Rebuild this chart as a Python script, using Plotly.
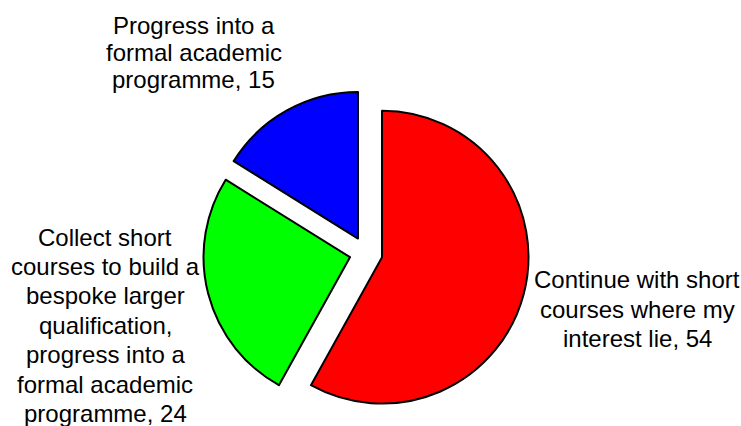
import plotly.graph_objects as go

# Survey answers and counts
labels = [
    "Continue with short<br>courses where my<br>interest lie",
    "Collect short<br>courses to build a<br>bespoke larger<br>qualification,<br>progress into a<br>formal academic<br>programme",
    "Progress into a<br>formal academic<br>programme",
]
values = [54, 24, 15]
colors = ["#FF0000", "#00FF00", "#0000FF"]

# Label placement in pixels: (centre x, first baseline y, line step)
label_anchor = [(637, 288, 29.5), (105, 245.5, 29.4), (193.5, 33.5, 27.2)]

W, H = 741, 426
FONT = "Liberation Sans, Arial, sans-serif"
FONT_SIZE = 24
PULL = 0.113

# Pie box, in pixels: centre and side length
cx, cy, side = 366, 253, 326

fig = go.Figure(
    go.Pie(
        labels=[l.replace("<br>", " ") for l in labels],
        values=values,
        sort=False,
        direction="clockwise",
        rotation=0,
        pull=[PULL] * len(values),
        marker=dict(colors=colors, line=dict(color="#000000", width=2)),
        textinfo="none",
        hoverinfo="label+value",
        domain=dict(
            x=[(cx - 200) / W, (cx + 200) / W],
            y=[1 - (cy + side / 2) / H, 1 - (cy - side / 2) / H],
        ),
        showlegend=False,
    )
)

annotations = []
for text, val, (ax, ay, step) in zip(labels, values, label_anchor):
    lines = text.split("<br>")
    lines[-1] = f"{lines[-1]}, {val}"
    for i, line in enumerate(lines):
        base = ay + i * step
        mid = base - 0.3465 * FONT_SIZE
        annotations.append(
            dict(
                text=line,
                x=ax / W,
                y=1 - mid / H,
                xref="paper",
                yref="paper",
                xanchor="center",
                yanchor="middle",
                showarrow=False,
                font=dict(family=FONT, size=FONT_SIZE, color="#000000"),
            )
        )

fig.update_layout(
    width=W,
    height=H,
    margin=dict(l=0, r=0, t=0, b=0),
    paper_bgcolor="#FFFFFF",
    plot_bgcolor="#FFFFFF",
    annotations=annotations,
)

fig.write_html("out.html")
